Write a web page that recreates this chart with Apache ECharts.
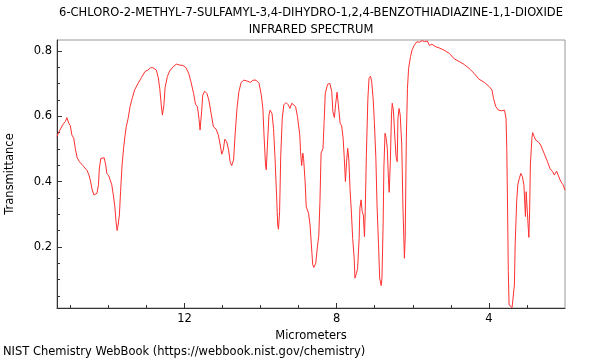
<!DOCTYPE html>
<html><head><meta charset="utf-8">
<script src="https://cdn.jsdelivr.net/npm/echarts@6/dist/echarts.min.js"></script>
<style>html,body{margin:0;padding:0;background:#fff}#c{width:600px;height:360px}</style>
</head><body><div id="c"></div>
<script>
const titleLines = ["6-CHLORO-2-METHYL-7-SULFAMYL-3,4-DIHYDRO-1,2,4-BENZOTHIADIAZINE-1,1-DIOXIDE", "INFRARED SPECTRUM"];
const xName = "Micrometers";
const yName = "Transmittance";
const footer = "NIST Chemistry WebBook (https://webbook.nist.gov/chemistry)";
const xMajorTicks = [4, 8, 12];
const xMinorTicks = [3,4,5,6,7,8,9,10,11,12,13,14,15];
const yMajorTicks = [0.2, 0.4, 0.6, 0.8];
const yMinorTicks = [0.05,0.1,0.15,0.2,0.25,0.3,0.35,0.4,0.45,0.5,0.55,0.6,0.65,0.7,0.75,0.8];
const wavelength = [15.35,15.31,15.26,15.19,15.13,15.09,15.04,15.00,14.96,14.91,14.87,14.82,14.76,14.67,14.56,14.51,14.47,14.43,14.38,14.34,14.30,14.26,14.24,14.20,14.15,14.11,14.07,14.04,13.99,13.95,13.91,13.87,13.83,13.80,13.77,13.75,13.71,13.68,13.64,13.60,13.56,13.53,13.48,13.43,13.37,13.31,13.22,13.13,13.04,12.96,12.89,12.83,12.78,12.74,12.69,12.65,12.61,12.58,12.54,12.51,12.45,12.39,12.30,12.21,12.12,12.04,11.96,11.89,11.83,11.76,11.71,11.66,11.62,11.59,11.55,11.52,11.47,11.41,11.36,11.30,11.24,11.17,11.11,11.06,11.02,10.98,10.94,10.89,10.84,10.80,10.76,10.71,10.67,10.62,10.57,10.51,10.44,10.35,10.26,10.20,10.12,10.04,9.98,9.94,9.91,9.87,9.85,9.82,9.78,9.75,9.70,9.66,9.62,9.58,9.55,9.53,9.50,9.47,9.43,9.39,9.33,9.27,9.23,9.18,9.13,9.08,9.03,8.97,8.95,8.92,8.89,8.87,8.83,8.80,8.74,8.70,8.67,8.63,8.60,8.55,8.51,8.47,8.44,8.41,8.36,8.33,8.30,8.24,8.18,8.13,8.10,8.06,8.03,7.99,7.96,7.91,7.87,7.83,7.80,7.77,7.74,7.71,7.68,7.65,7.61,7.58,7.54,7.52,7.48,7.45,7.41,7.39,7.36,7.33,7.30,7.27,7.25,7.22,7.18,7.15,7.11,7.08,7.04,7.01,6.97,6.94,6.90,6.87,6.83,6.81,6.78,6.76,6.73,6.70,6.67,6.64,6.62,6.59,6.56,6.54,6.51,6.47,6.44,6.41,6.39,6.36,6.33,6.29,6.26,6.22,6.20,6.17,6.14,6.11,6.06,6.02,5.96,5.89,5.83,5.76,5.69,5.62,5.56,5.50,5.39,5.31,5.18,5.04,4.91,4.78,4.65,4.52,4.39,4.26,4.12,3.99,3.92,3.88,3.82,3.75,3.66,3.59,3.55,3.53,3.51,3.49,3.47,3.44,3.39,3.36,3.33,3.31,3.27,3.24,3.20,3.16,3.12,3.08,3.05,3.04,3.02,2.99,2.97,2.95,2.93,2.91,2.87,2.85,2.81,2.77,2.70,2.64,2.55,2.46,2.39,2.33,2.28,2.22,2.18,2.11,2.05,2.00];
const transmittance = [0.538,0.55,0.551,0.576,0.584,0.596,0.579,0.571,0.543,0.533,0.502,0.473,0.461,0.449,0.434,0.42,0.402,0.377,0.359,0.353,0.364,0.39,0.436,0.471,0.477,0.473,0.451,0.425,0.418,0.415,0.39,0.359,0.323,0.279,0.25,0.262,0.298,0.369,0.451,0.502,0.543,0.568,0.594,0.63,0.657,0.681,0.701,0.719,0.737,0.742,0.749,0.749,0.752,0.742,0.719,0.686,0.635,0.604,0.635,0.688,0.722,0.739,0.752,0.76,0.757,0.756,0.749,0.732,0.706,0.670,0.637,0.630,0.594,0.558,0.614,0.665,0.677,0.670,0.65,0.609,0.568,0.561,0.543,0.512,0.484,0.497,0.53,0.522,0.497,0.461,0.449,0.466,0.543,0.624,0.676,0.704,0.711,0.708,0.704,0.711,0.711,0.701,0.665,0.624,0.543,0.451,0.436,0.512,0.604,0.619,0.609,0.563,0.471,0.359,0.267,0.254,0.308,0.481,0.594,0.635,0.642,0.635,0.624,0.64,0.645,0.630,0.599,0.543,0.492,0.449,0.487,0.471,0.40,0.323,0.303,0.267,0.215,0.145,0.137,0.15,0.196,0.236,0.339,0.487,0.502,0.584,0.670,0.698,0.701,0.676,0.614,0.596,0.635,0.674,0.640,0.579,0.571,0.533,0.471,0.40,0.461,0.502,0.466,0.379,0.298,0.226,0.165,0.104,0.119,0.134,0.226,0.318,0.344,0.308,0.298,0.231,0.308,0.481,0.655,0.716,0.723,0.706,0.65,0.584,0.471,0.328,0.206,0.104,0.081,0.104,0.267,0.441,0.548,0.533,0.502,0.41,0.367,0.461,0.604,0.640,0.619,0.533,0.477,0.461,0.594,0.624,0.604,0.512,0.328,0.165,0.226,0.533,0.686,0.747,0.783,0.803,0.818,0.829,0.827,0.832,0.829,0.831,0.817,0.821,0.813,0.81,0.803,0.793,0.776,0.768,0.759,0.747,0.732,0.714,0.704,0.691,0.681,0.655,0.630,0.619,0.617,0.619,0.594,0.502,0.328,0.124,0.022,0.017,0.014,0.017,0.083,0.206,0.339,0.39,0.41,0.425,0.415,0.39,0.318,0.293,0.369,0.369,0.267,0.229,0.308,0.451,0.533,0.55,0.538,0.527,0.522,0.512,0.487,0.461,0.439,0.431,0.42,0.432,0.42,0.40,0.39,0.374];

const FONT = "DejaVu Sans";
const FS = 11.5;
const pts = wavelength.map((w, i) => [w, transmittance[i]]);
const chart = echarts.init(document.getElementById('c'), null, {renderer: 'canvas'});
const xBase = {type: 'value', inverse: true, min: 2, max: 15.35, splitLine: {show: false}, position: 'bottom'};
const yBase = {type: 'value', min: 0.0125, max: 0.834, splitLine: {show: false}, position: 'left'};
chart.setOption({
  animation: false,
  backgroundColor: '#fff',
  title: [
    {text: titleLines.join('\n'), left: 311, top: 5, textAlign: 'center', padding: 0,
     textStyle: {fontFamily: FONT, fontSize: FS, fontWeight: 'normal', color: '#000', lineHeight: 17}},
    {text: footer, left: 3, top: 346, padding: 0,
     textStyle: {fontFamily: FONT, fontSize: FS, fontWeight: 'normal', color: '#000'}}
  ],
  grid: {left: 57, right: 35, top: 40, bottom: 52, outerBoundsMode: 'none', containLabel: false,
         show: true, borderColor: '#999', borderWidth: 1, backgroundColor: 'transparent'},
  xAxis: [
    Object.assign({}, xBase, {
      name: xName, nameLocation: 'middle', nameGap: 20,
      nameTextStyle: {fontFamily: FONT, fontSize: FS, color: '#000'},
      axisLine: {show: true, lineStyle: {color: '#333', width: 1}},
      axisTick: {show: true, inside: true, length: 5, customValues: xMajorTicks, lineStyle: {color: '#333'}},
      axisLabel: {show: true, customValues: xMajorTicks, margin: 5, fontFamily: FONT, fontSize: FS, color: '#000'}
    }),
    Object.assign({}, xBase, {
      axisLine: {show: false},
      axisTick: {show: true, inside: true, length: 3, customValues: xMinorTicks, lineStyle: {color: '#333'}},
      axisLabel: {show: false}
    })
  ],
  yAxis: [
    Object.assign({}, yBase, {
      name: yName, nameLocation: 'middle', nameGap: 41, nameRotate: 90,
      nameTextStyle: {fontFamily: FONT, fontSize: FS, color: '#000'},
      axisLine: {show: true, lineStyle: {color: '#333', width: 1}},
      axisTick: {show: true, inside: true, length: 5, customValues: yMajorTicks, lineStyle: {color: '#333'}},
      axisLabel: {show: true, customValues: yMajorTicks, margin: 5, fontFamily: FONT, fontSize: FS, color: '#000',
                  formatter: v => v.toFixed(1)}
    }),
    Object.assign({}, yBase, {
      axisLine: {show: false},
      axisTick: {show: true, inside: true, length: 3, customValues: yMinorTicks, lineStyle: {color: '#333'}},
      axisLabel: {show: false}
    })
  ],
  series: [{
    type: 'line', data: pts, xAxisIndex: 0, yAxisIndex: 0,
    showSymbol: false, symbol: 'none', smooth: false,
    lineStyle: {color: '#ff3030', width: 1}, itemStyle: {color: '#ff3030'}
  }]
});
</script></body></html>
